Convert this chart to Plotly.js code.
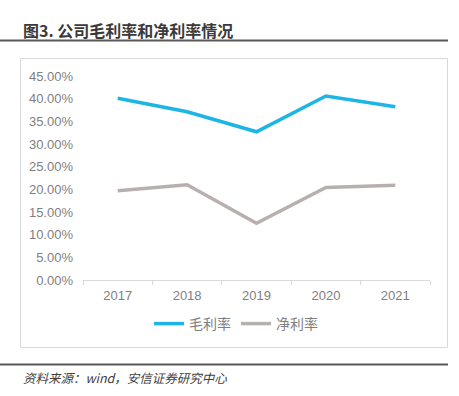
<!DOCTYPE html>
<html>
<head>
<meta charset="utf-8">
<script src="https://cdn.plot.ly/plotly-3.0.1.min.js"></script>
<style>html,body{margin:0;padding:0;background:#fff;}#chart{width:459px;height:396px;}</style>
</head>
<body>
<div id="chart"></div>
<script>
const years = ['2017', '2018', '2019', '2020', '2021'];
const grossMargin = [0.401, 0.371, 0.327, 0.406, 0.382];
const netMargin = [0.197, 0.210, 0.125, 0.204, 0.209];
const seriesNames = ['毛利率', '净利率'];
const yTicks = [0, 0.05, 0.10, 0.15, 0.20, 0.25, 0.30, 0.35, 0.40, 0.45];

const W = 459, H = 396, L = 83, R = 29, T = 76, B = 116;
const pw = W - L - R, ph = H - T - B;
const px = x => (x - L) / pw;
const py = y => (H - B - y) / ph;

const font = '"Liberation Sans", "Noto Sans CJK SC", sans-serif';

const traces = [
  {x: years, y: grossMargin, name: seriesNames[0], type: 'scatter', mode: 'lines',
   line: {color: '#1cb5e6', width: 3.5}},
  {x: years, y: netMargin, name: seriesNames[1], type: 'scatter', mode: 'lines',
   line: {color: '#b8b0ae', width: 3.5}}
];

const layout = {
  width: W, height: H,
  margin: {l: L, r: R, t: T, b: B},
  paper_bgcolor: '#fff', plot_bgcolor: '#fff',
  font: {family: font, color: '#7f7f7f', size: 12},
  showlegend: true,
  legend: {orientation: 'h', x: px(236), xanchor: 'center', y: py(324), yanchor: 'middle',
           font: {family: '"Noto Sans CJK SC", sans-serif', size: 14, color: '#7f7f7f'},
           itemwidth: 30, tracegroupgap: 0},
  xaxis: {type: 'category', tickvals: years, ticktext: years, range: [-0.5, years.length - 0.5],
          showgrid: false,
          showline: true, linecolor: '#d9d9d9', linewidth: 1,
          ticks: 'outside', tickson: 'boundaries', ticklen: 4, tickcolor: '#d9d9d9',
          ticklabelstandoff: 3,
          tickfont: {size: 13, color: '#7f7f7f'}, fixedrange: true},
  yaxis: {range: [0, 0.45], tickvals: yTicks, tickformat: '.2%', showgrid: false,
          zeroline: false, showline: false, ticks: '', ticklabelstandoff: 9,
          tickfont: {size: 13, color: '#7f7f7f'}, fixedrange: true},
  shapes: [
    {type: 'line', xref: 'paper', yref: 'paper', x0: px(0), x1: px(448), y0: py(40.5), y1: py(40.5),
     line: {color: '#595959', width: 2}},
    {type: 'line', xref: 'paper', yref: 'paper', x0: px(0), x1: px(448), y0: py(364.5), y1: py(364.5),
     line: {color: '#595959', width: 2}},
    {type: 'rect', xref: 'paper', yref: 'paper', x0: px(20.5), x1: px(447.5), y0: py(58.5), y1: py(347.5),
     line: {color: '#d9d9d9', width: 1}, layer: 'below'}
  ],
  annotations: [
    {text: '<b>图3. 公司毛利率和净利率情况</b>', xref: 'paper', yref: 'paper', x: px(21), y: py(30),
     xanchor: 'left', yanchor: 'middle', showarrow: false,
     font: {family: '"Noto Sans CJK SC", sans-serif', size: 16, color: '#3a3a3a'}},
    {text: '<i>资料来源：wind，安信证券研究中心</i>', xref: 'paper', yref: 'paper', x: px(21), y: py(377),
     xanchor: 'left', yanchor: 'middle', showarrow: false,
     font: {family: '"Noto Sans CJK SC", sans-serif', size: 12.5, color: '#404040'}}
  ]
};

Plotly.newPlot('chart', traces, layout, {displayModeBar: false, staticPlot: true});
</script>
</body>
</html>
